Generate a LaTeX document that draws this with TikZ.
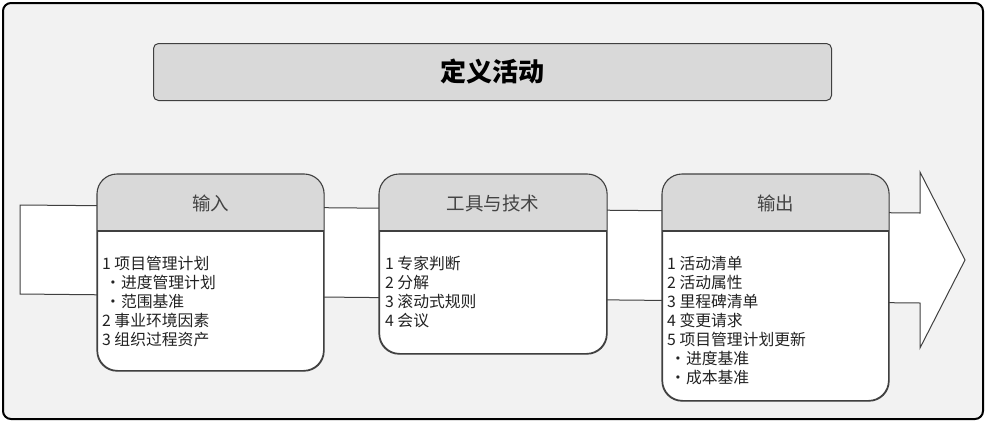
\documentclass[tikz,border=0pt]{standalone}
\usepackage{fontspec}
\setmainfont{Noto Sans CJK SC}
\definecolor{bgc}{HTML}{F2F2F2}
\definecolor{hdrc}{HTML}{D9D9D9}
\definecolor{linec}{HTML}{404040}
\definecolor{txtc}{HTML}{222222}
\begin{document}
\begin{tikzpicture}[x=1pt,y=-1pt,
  boxnode/.style={draw=linec,line width=1.1pt,rounded corners=20pt,minimum width=#1,anchor=north west,inner sep=0pt},
  hdrtext/.style={font=\fontsize{18.5}{22}\selectfont,text=txtc!85!white},
  bodytext/.style={font=\fontsize{15.8}{19}\selectfont,text=txtc,align=left,anchor=north west,inner sep=0pt}]
\useasboundingbox (0,0) rectangle (985,421);
% outer frame
\node[draw=black,fill=bgc,line width=2pt,rounded corners=8pt,minimum width=980pt,minimum height=416pt,anchor=north west,inner sep=0pt] (frame) at (2,2) {};
% title
\node[draw=linec,fill=hdrc,line width=1pt,rounded corners=5pt,minimum width=678pt,minimum height=57pt,anchor=north west,inner sep=0pt] (title) at (153,43) {};
\node[font=\fontsize{26}{30}\selectfont\bfseries,text=black] (titletext) at (title.center) {定义活动};
% big arrow
\draw[fill=white,draw=linec,line width=1pt] (20,205) -- (920,213) -- (920,172) -- (965,260) -- (920,348) -- (920,303) -- (20,294) -- cycle;
% boxes
\foreach \nm/\x/\w/\h/\lab in {in/97/226/196/输入, tt/379/227/179/工具与技术, out/662/226/226/输出}{
  \node[boxnode=\w pt,fill=white,minimum height=\h pt] (\nm) at (\x,174) {};
  \begin{scope}
    \clip[rounded corners=20pt] (\nm.north west) rectangle (\nm.south east);
    \fill[hdrc] (\nm.north west) rectangle ([yshift=-57pt]\nm.north east);
  \end{scope}
  \draw[linec,line width=1.1pt,rounded corners=20pt] (\nm.north west) rectangle (\nm.south east);
  \draw[linec,line width=1.1pt] ([yshift=-57pt]\nm.north west) -- ([yshift=-57pt]\nm.north east);
  \node[hdrtext] (\nm hdr) at ([yshift=-29pt]\nm.north) {\lab};
}
\newcommand{\blt}{\hspace*{3pt}•}
\node[bodytext] (intext) at (102,256) {1 项目管理计划\\ \blt 进度管理计划\\ \blt 范围基准\\ 2 事业环境因素\\ 3 组织过程资产};
\node[bodytext] (tttext) at (385,256) {1 专家判断\\ 2 分解\\ 3 滚动式规则\\ 4 会议};
\node[bodytext] (outtext) at (667,256) {1 活动清单\\ 2 活动属性\\ 3 里程碑清单\\ 4 变更请求\\ 5 项目管理计划更新\\ \blt 进度基准\\ \blt 成本基准};
\end{tikzpicture}
\end{document}
